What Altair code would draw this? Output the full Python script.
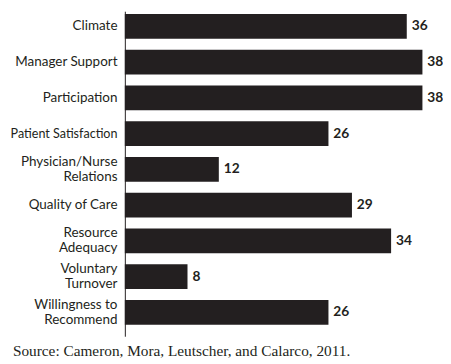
import altair as alt
import pandas as pd

categories = ["Climate", "Manager Support", "Participation", "Patient Satisfaction",
              "Physician/Nurse\nRelations", "Quality of Care", "Resource\nAdequacy",
              "Voluntary\nTurnover", "Willingness to\nRecommend"]
values = [36, 38, 38, 26, 12, 29, 34, 8, 26]
source_note = "Source: Cameron, Mora, Leutscher, and Calarco, 2011."

df = pd.DataFrame({"category": categories, "value": values})

INK = "#231f20"

base = alt.Chart(df).encode(
    y=alt.Y("category:N", sort=categories, title=None,
            scale=alt.Scale(paddingInner=0.313, paddingOuter=0.203, align=0.2),
            axis=alt.Axis(domain=True, domainColor=INK, domainWidth=1, ticks=False,
                          labelExpr="split(datum.label, '\\n')",
                          labelOffset={"condition": {"test": "indexof(datum.value, '\\n') >= 0",
                                                     "value": -7.5},
                                       "value": 0},
                          labelFontSize={"condition": {"test": "length(datum.value) > 18 && indexof(datum.value, '\\n') < 0",
                                                       "value": 12.8},
                                         "value": 13.7},
                          labelFont="Lato", labelColor=INK,
                          labelPadding=8, labelLineHeight=15, labelLimit=250))
)
bars = base.mark_bar(color=INK).encode(
    x=alt.X("value:Q", scale=alt.Scale(domain=[0, 40]), axis=None)
)
text = base.mark_text(align="left", dx=5, fontWeight="bold", font="Lato",
                      fontSize=14, color=INK).encode(x="value:Q", text="value:Q")

chart = (bars + text).properties(
    width=319, height=331,
    padding={"left": 119, "top": 0, "right": 5, "bottom": 25},
    autosize=alt.AutoSizeParams(type="none"),
    title=alt.TitleParams(source_note, orient="bottom", anchor="start", frame="group",
                          font="Liberation Serif", fontSize=15.6, fontWeight="normal",
                          color=INK, dx=-114, offset=8)
).configure_view(stroke=None)

chart.save("out.html", embed_options={"renderer": "svg", "actions": False})
